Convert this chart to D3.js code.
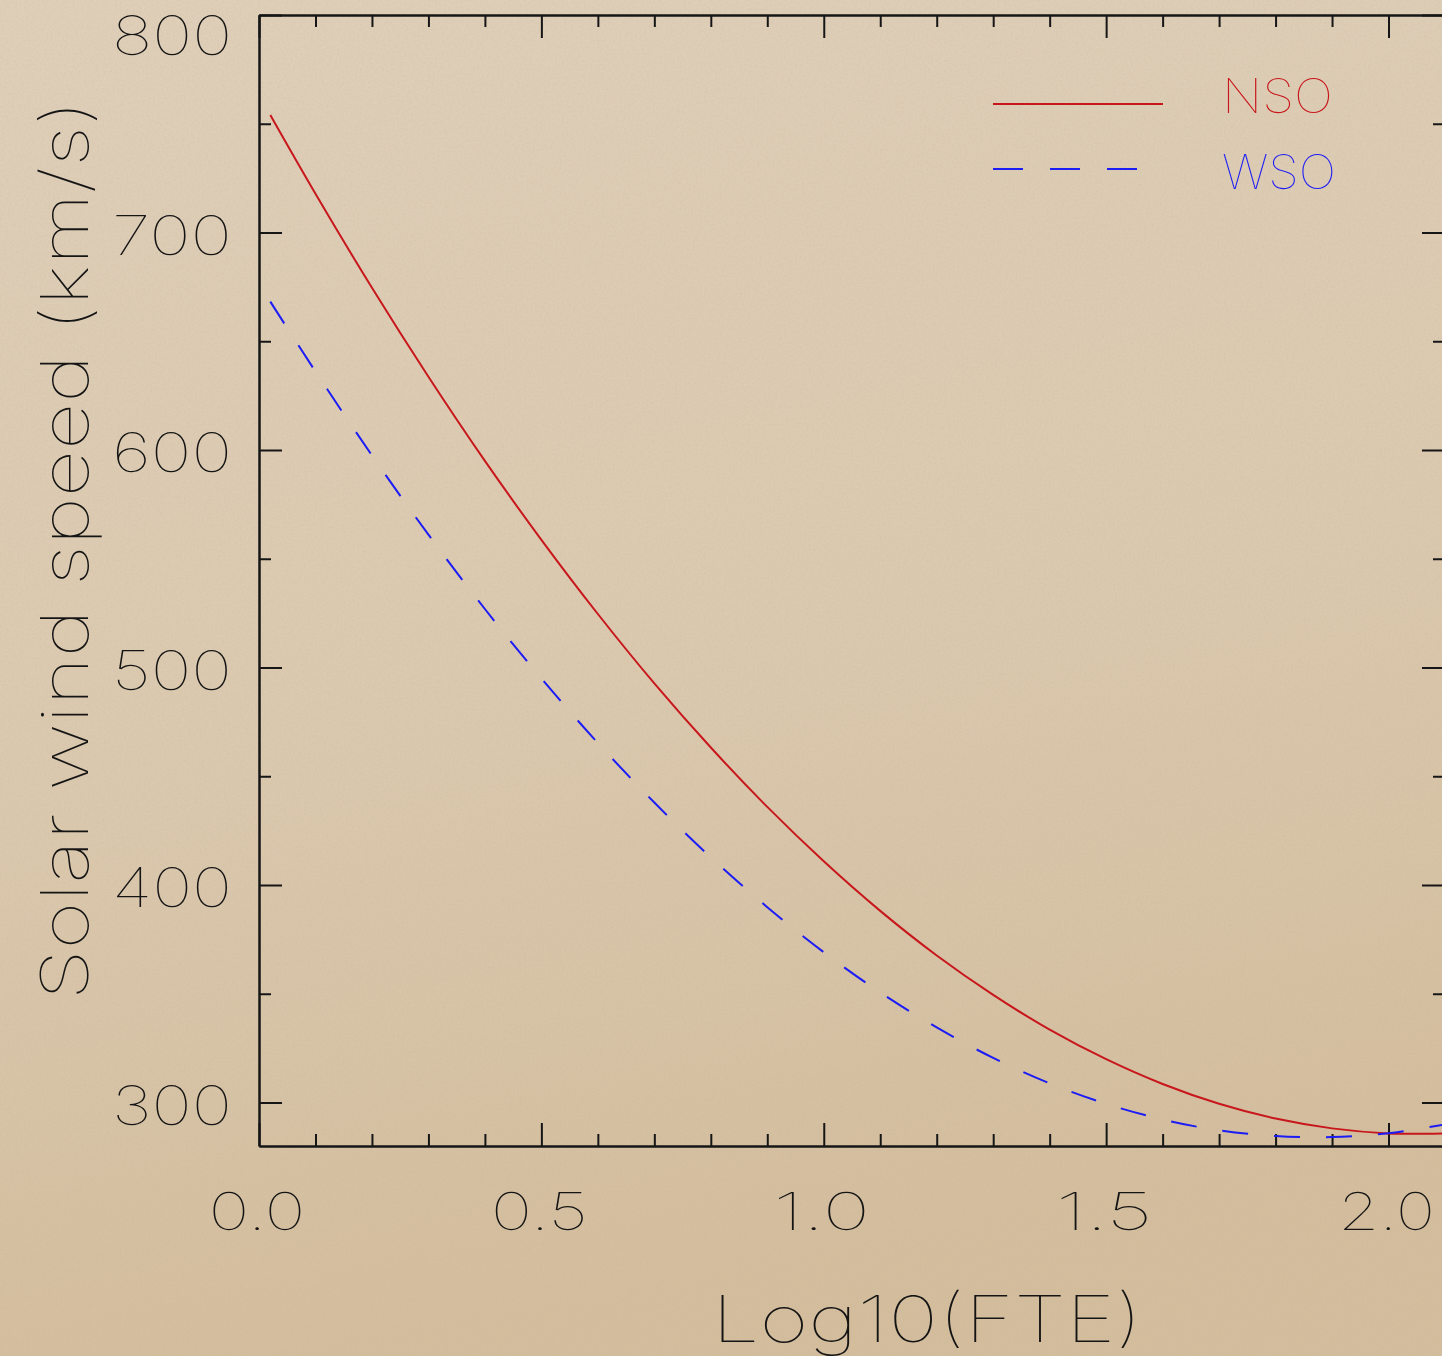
<!DOCTYPE html>
<html>
<head>
<meta charset="utf-8">
<script src="https://cdn.jsdelivr.net/npm/d3@7"></script>
<style>
  html, body { margin: 0; padding: 0; background: #dac8ae; }
  svg { display: block; }
  text { font-family: Inter, "DejaVu Sans", sans-serif; font-weight: 100; fill: #141414; }
</style>
</head>
<body>
<div id="chart"></div>
<script>
// values
var fte = [0.02, 0.1, 0.2, 0.3, 0.4, 0.5, 0.6, 0.7, 0.8, 0.9, 1.0,
           1.1, 1.2, 1.3, 1.4, 1.5, 1.6, 1.7, 1.8, 1.9, 2.0, 2.1];
var nso = [754.0, 717.8, 674.6, 633.7, 595.0, 558.7, 524.6, 492.7, 463.2, 435.9, 410.9,
           388.1, 367.6, 349.5, 333.5, 319.9, 308.5, 299.4, 292.6, 288.1, 285.8, 285.8];
var wso = [668.2, 636.1, 597.5, 561.1, 526.9, 495.0, 465.3, 437.9, 412.7, 389.8, 369.1,
           350.6, 334.5, 320.5, 308.8, 299.4, 292.2, 287.2, 284.6, 284.1, 285.9, 289.9];
var xMajor = [0.0, 0.5, 1.0, 1.5, 2.0];
var xMinor = [0.1, 0.2, 0.3, 0.4, 0.6, 0.7, 0.8, 0.9, 1.1, 1.2, 1.3, 1.4, 1.6, 1.7, 1.8, 1.9];
var yMajor = [300, 400, 500, 600, 700, 800];
var yMinor = [350, 450, 550, 650, 750];
var seriesNames = ["NSO", "WSO"];

function init(){
    var w = 1442, h = 1356;
    var left = 259, right = 1445, top = 15, bottom = 1146;

    var xscale = d3.scaleLinear().domain([0, 2.1]).range([left, right]);
    var yscale = d3.scaleLinear().domain([280, 800]).range([bottom, top]);

    var svg = d3.select("#chart").append("svg")
                .attr("width", w)
                .attr("height", h);

    // paper background
    var defs = svg.append("defs");
    var grad = defs.append("linearGradient").attr("id", "paper")
                .attr("x1", 0).attr("y1", 0).attr("x2", 0.2).attr("y2", 1);
    grad.append("stop").attr("offset", "0%").attr("stop-color", "#dfcfb9");
    grad.append("stop").attr("offset", "55%").attr("stop-color", "#dbc9af");
    grad.append("stop").attr("offset", "100%").attr("stop-color", "#d3bd9d");
    var filt = defs.append("filter").attr("id", "grain")
                .attr("x", 0).attr("y", 0).attr("width", "100%").attr("height", "100%");
    filt.append("feTurbulence").attr("type", "fractalNoise")
        .attr("baseFrequency", 0.45).attr("numOctaves", 3).attr("seed", 4);
    filt.append("feColorMatrix").attr("type", "matrix")
        .attr("values", "0 0 0 0 0.55  0 0 0 0 0.45  0 0 0 0 0.32  0 0 0 1.3 -0.5");
    defs.append("clipPath").attr("id", "plotclip")
        .append("rect").attr("x", left).attr("y", top)
        .attr("width", right - left).attr("height", bottom - top);

    svg.append("rect").attr("width", w).attr("height", h).attr("fill", "url(#paper)");
    svg.append("rect").attr("width", w).attr("height", h)
        .attr("filter", "url(#grain)").attr("opacity", 0.3);

    // axes, ticks pointing inward on all four sides
    function styleAxis(g) {
        g.selectAll("path, line").attr("stroke", "#161616").attr("stroke-width", 2);
    }
    svg.append("g").attr("transform", "translate(0," + bottom + ")")
        .call(d3.axisBottom(xscale).tickValues(xMajor).tickSize(-23).tickSizeOuter(0).tickFormat(""))
        .call(styleAxis);
    svg.append("g").attr("transform", "translate(0," + bottom + ")")
        .call(d3.axisBottom(xscale).tickValues(xMinor).tickSize(-12).tickSizeOuter(0).tickFormat(""))
        .call(styleAxis);
    svg.append("g").attr("transform", "translate(0," + top + ")")
        .call(d3.axisTop(xscale).tickValues(xMajor).tickSize(-23).tickSizeOuter(0).tickFormat(""))
        .call(styleAxis);
    svg.append("g").attr("transform", "translate(0," + top + ")")
        .call(d3.axisTop(xscale).tickValues(xMinor).tickSize(-12).tickSizeOuter(0).tickFormat(""))
        .call(styleAxis);
    svg.append("g").attr("transform", "translate(" + left + ",0)")
        .call(d3.axisLeft(yscale).tickValues(yMajor).tickSize(-23).tickSizeOuter(0).tickFormat(""))
        .call(styleAxis);
    svg.append("g").attr("transform", "translate(" + left + ",0)")
        .call(d3.axisLeft(yscale).tickValues(yMinor).tickSize(-12).tickSizeOuter(0).tickFormat(""))
        .call(styleAxis);
    svg.append("g").attr("transform", "translate(" + right + ",0)")
        .call(d3.axisRight(yscale).tickValues(yMajor).tickSize(-23).tickSizeOuter(0).tickFormat(""))
        .call(styleAxis);
    svg.append("g").attr("transform", "translate(" + right + ",0)")
        .call(d3.axisRight(yscale).tickValues(yMinor).tickSize(-12).tickSizeOuter(0).tickFormat(""))
        .call(styleAxis);

    // tick labels
    svg.selectAll("text.xlab")
        .data(xMajor)
        .enter()
        .append("text")
        .attr("class", "xlab")
        .attr("x", function(d) { return xscale(d) - 2; })
        .attr("y", 1230)
        .attr("text-anchor", "middle")
        .attr("textLength", 97)
        .attr("lengthAdjust", "spacingAndGlyphs")
        .style("font-size", "52px")
        .text(function(d) { return d.toFixed(1); });

    svg.selectAll("text.ylab")
        .data(yMajor)
        .enter()
        .append("text")
        .attr("class", "ylab")
        .attr("x", 232)
        .attr("y", function(d) { return d === 800 ? 55 : yscale(d) + 22; })
        .attr("text-anchor", "end")
        .attr("textLength", 120)
        .attr("lengthAdjust", "spacingAndGlyphs")
        .style("font-size", "54px")
        .text(function(d) { return d; });

    // axis titles
    svg.append("text")
        .attr("x", 927).attr("y", 1342)
        .attr("text-anchor", "middle")
        .attr("textLength", 430)
        .attr("lengthAdjust", "spacingAndGlyphs")
        .style("font-size", "64px")
        .text("Log10(FTE)");

    svg.append("text")
        .attr("transform", "translate(88,550) rotate(-90)")
        .attr("text-anchor", "middle")
        .attr("textLength", 900)
        .attr("lengthAdjust", "spacingAndGlyphs")
        .style("font-size", "66px")
        .text("Solar wind speed (km/s)");

    // curves
    var line = d3.line()
        .x(function(d) { return xscale(d[0]); })
        .y(function(d) { return yscale(d[1]); })
        .curve(d3.curveCatmullRom);

    var plot = svg.append("g").attr("clip-path", "url(#plotclip)");
    plot.append("path")
        .datum(d3.zip(fte, nso))
        .attr("d", line)
        .attr("fill", "none")
        .attr("stroke", "#c8171c")
        .attr("stroke-width", 2);
    plot.append("path")
        .datum(d3.zip(fte, wso))
        .attr("d", line)
        .attr("fill", "none")
        .attr("stroke", "#1c1cf5")
        .attr("stroke-width", 2)
        .attr("stroke-dasharray", "26,26");

    // legend
    var legColors = ["#c8171c", "#1c1cf5"];
    var legDash = [null, "30,27"];
    var leg = svg.selectAll("g.leg")
        .data(seriesNames)
        .enter()
        .append("g")
        .attr("class", "leg")
        .attr("transform", function(d, i) { return "translate(0," + (104 + i * 65) + ")"; });
    leg.append("line")
        .attr("x1", 993).attr("x2", function(d, i) { return i === 0 ? 1163 : 1138; })
        .attr("y1", 0).attr("y2", 0)
        .attr("stroke", function(d, i) { return legColors[i]; })
        .attr("stroke-width", 2)
        .attr("stroke-dasharray", function(d, i) { return legDash[i]; });
    leg.append("text")
        .attr("x", 1222)
        .attr("y", function(d, i) { return i === 0 ? 9 : 20; })
        .attr("textLength", function(d, i) { return i === 0 ? 111 : 114; })
        .attr("lengthAdjust", "spacingAndGlyphs")
        .style("font-size", "48px")
        .style("fill", function(d, i) { return legColors[i]; })
        .text(function(d) { return d; });
}
window.onload = init;
</script>
</body>
</html>
